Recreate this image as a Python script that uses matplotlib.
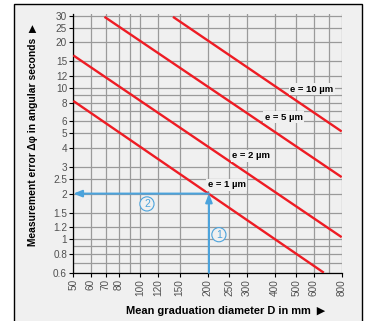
import matplotlib
matplotlib.use("Agg")
from matplotlib import pyplot as plt
from matplotlib.patches import Rectangle
from matplotlib.ticker import FixedLocator, FixedFormatter, NullFormatter

plt.rcParams['font.family'] = ['Liberation Sans', 'DejaVu Sans']

# eccentricity lines: diameter D (mm) -> error (angular seconds)
e_labels = ["e = 1 µm", "e = 2 µm", "e = 5 µm", "e = 10 µm"]
line_D = [[50, 665], [50, 800], [69, 800], [140, 800]]
line_err = [[8.2, 0.6], [16.4, 1.03], [29.5, 2.57], [29.5, 5.15]]
label_D = [244, 315, 440, 586]
label_err = [2.29, 3.56, 6.4, 9.8]

# worked example
ex_D = 203
ex_err = 2.0

x_ticks = [50, 60, 70, 80, 100, 120, 150, 200, 250, 300, 400, 500, 600, 800]
x_minor = [90, 700]
y_ticks = [0.6, 0.8, 1, 1.2, 1.5, 2, 2.5, 3, 4, 5, 6, 8, 10, 12, 15, 20, 25, 30]
y_tick_labels = ["0.6", "0.8", "1", "1.2", "1.5", "2", "2.5", "3", "4", "5", "6", "8",
                 "10", "12", "15", "20", "25", "30"]
y_minor = [0.7, 0.9, 7, 9]

bg = "#f0f0f0"
red = "#ee1c24"
blue = "#4ba3dc"

fig = plt.figure(figsize=(3.7, 3.21), dpi=100, facecolor="white")
fig.patches.append(Rectangle((14 / 370, -0.05), 348 / 370, 1.05 - 4 / 321,
                             transform=fig.transFigure, facecolor=bg,
                             edgecolor="black", linewidth=1.0, zorder=-5))

ax = fig.add_axes([73.3 / 370, 1 - 272.7 / 321, 268.4 / 370, 258.7 / 321])
ax.set_zorder(2)
ax.set_facecolor(bg)
ax.set_xscale("log")
ax.set_yscale("log")
ax.set_xlim(50, 800)
ax.set_ylim(0.6, 30.8)

ax.xaxis.set_major_locator(FixedLocator(x_ticks))
ax.xaxis.set_major_formatter(FixedFormatter([str(v) for v in x_ticks]))
ax.xaxis.set_minor_locator(FixedLocator(x_minor))
ax.xaxis.set_minor_formatter(NullFormatter())
ax.yaxis.set_major_locator(FixedLocator(y_ticks))
ax.yaxis.set_major_formatter(FixedFormatter(y_tick_labels))
ax.yaxis.set_minor_locator(FixedLocator(y_minor))
ax.yaxis.set_minor_formatter(NullFormatter())

ax.grid(True, which="both", color="#9a9a9a", linewidth=0.9, zorder=1)
ax.set_axisbelow(True)
for s in ["top", "right"]:
    ax.spines[s].set_visible(False)
for s in ["left", "bottom"]:
    ax.spines[s].set_linewidth(0.9)
ax.tick_params(which="major", length=3, width=0.8, labelsize=7.2, labelcolor="#505050", pad=1.5)
ax.tick_params(which="minor", length=0)
ax.tick_params(axis="x", labelrotation=90)

# red lines
for D, err in zip(line_D, line_err):
    ax.plot(D, err, color=red, linewidth=1.7, solid_capstyle="butt", zorder=3)
for lab, D, err in zip(e_labels, label_D, label_err):
    ax.text(D, err, lab, fontsize=6.8, fontweight="bold", ha="center", va="center",
            bbox=dict(boxstyle="square,pad=0.15", facecolor=bg, edgecolor="none"), zorder=4)

# example arrows
ax.annotate("", xy=(ex_D, ex_err), xytext=(ex_D, 0.6),
            arrowprops=dict(arrowstyle="-|>,head_length=0.5,head_width=0.2", color=blue,
                            linewidth=1.5, shrinkA=0, shrinkB=0), zorder=5)
ax.annotate("", xy=(50, ex_err), xytext=(ex_D, ex_err),
            arrowprops=dict(arrowstyle="-|>,head_length=0.5,head_width=0.2", color=blue,
                            linewidth=1.5, shrinkA=0, shrinkB=0), zorder=5)
ax.text(225, 1.07, "1", fontsize=7.5, color=blue, ha="center", va="center",
        bbox=dict(boxstyle="circle,pad=0.2", facecolor=bg, edgecolor=blue, linewidth=0.8), zorder=6)
ax.text(107, 1.71, "2", fontsize=7.5, color=blue, ha="center", va="center",
        bbox=dict(boxstyle="circle,pad=0.2", facecolor=bg, edgecolor=blue, linewidth=0.8), zorder=6)

fig.text(33 / 370, 1 - 135 / 321, "Measurement error Δφ in angular seconds  \u25b6",
         rotation=90, fontsize=7.4, fontweight="bold", ha="center", va="center")
fig.text(226 / 370, 1 - 311 / 321, "Mean graduation diameter D in mm  \u25b6",
         fontsize=7.9, fontweight="bold", ha="center", va="center")

fig.savefig("out.png", dpi=100, facecolor="white")
